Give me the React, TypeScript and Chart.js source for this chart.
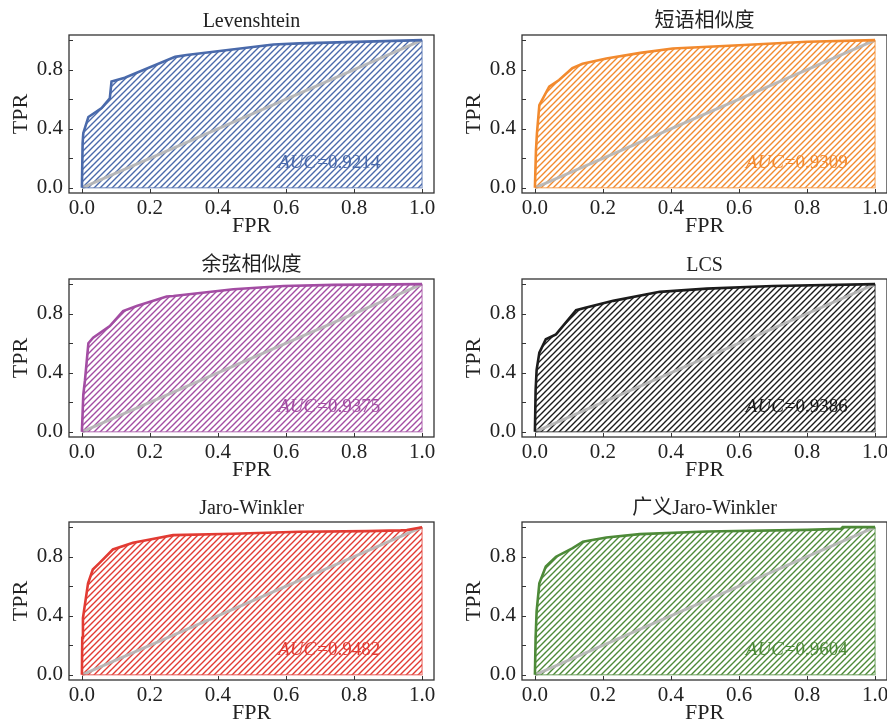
import React, { useEffect, useRef } from "react";
import { Chart, registerables } from "chart.js";

Chart.register(...registerables);

// ---------- data ----------
const TITLES = ["Levenshtein", "短语相似度", "余弦相似度", "LCS", "Jaro-Winkler", "广义Jaro-Winkler"];
const AUC_VALUES = ["0.9214", "0.9309", "0.9375", "0.9386", "0.9482", "0.9604"];

const LEV_FPR = [0, 0.002, 0.004, 0.019, 0.058, 0.082, 0.087, 0.126, 0.274, 0.308, 0.563, 0.64, 1.0];
const LEV_TPR = [0, 0.3, 0.37, 0.48, 0.54, 0.606, 0.72, 0.745, 0.887, 0.899, 0.971, 0.978, 1.0];

const PHRASE_FPR = [0, 0.003, 0.006, 0.013, 0.042, 0.071, 0.11, 0.14, 0.21, 0.31, 0.405, 0.6, 0.8, 1.0];
const PHRASE_TPR = [0, 0.25, 0.37, 0.56, 0.685, 0.73, 0.81, 0.84, 0.876, 0.914, 0.944, 0.966, 0.989, 1.0];

const COS_FPR = [0, 0.004, 0.009, 0.019, 0.033, 0.082, 0.121, 0.161, 0.249, 0.269, 0.445, 0.593, 0.74, 1.0];
const COS_TPR = [0, 0.25, 0.35, 0.6, 0.637, 0.716, 0.818, 0.852, 0.916, 0.92, 0.966, 0.988, 0.995, 1.0];

const LCS_FPR = [0, 0.002, 0.005, 0.013, 0.032, 0.062, 0.121, 0.151, 0.23, 0.367, 0.505, 0.7, 1.0];
const LCS_TPR = [0, 0.28, 0.42, 0.536, 0.627, 0.66, 0.824, 0.842, 0.887, 0.948, 0.97, 0.988, 1.0];

const JW_FPR = [0, 0.001, 0.003, 0.018, 0.032, 0.052, 0.091, 0.15, 0.2, 0.268, 0.445, 0.64, 0.838, 0.937, 0.955, 1.0];
const JW_TPR = [0, 0.25, 0.385, 0.62, 0.713, 0.758, 0.849, 0.894, 0.917, 0.946, 0.955, 0.969, 0.973, 0.978, 0.98, 1.0];

const GJW_FPR = [0, 0.002, 0.005, 0.013, 0.032, 0.062, 0.111, 0.141, 0.21, 0.308, 0.505, 0.8, 0.9, 0.905, 1.0];
const GJW_TPR = [0, 0.25, 0.43, 0.62, 0.733, 0.8, 0.858, 0.902, 0.93, 0.953, 0.971, 0.982, 0.989, 1.0, 1.0];

const FPR_SERIES = [LEV_FPR, PHRASE_FPR, COS_FPR, LCS_FPR, JW_FPR, GJW_FPR];
const TPR_SERIES = [LEV_TPR, PHRASE_TPR, COS_TPR, LCS_TPR, JW_TPR, GJW_TPR];

const DIAG_FPR = [0, 1];
const DIAG_TPR = [0, 1];

const X_TICKS = [0, 0.2, 0.4, 0.6, 0.8, 1.0];
const Y_TICKS = [0, 0.2, 0.4, 0.6, 0.8, 1.0];
const Y_LABELED = [0, 0.4, 0.8];

// ---------- styles / layout ----------
const COLORS = ["#4a6aab", "#f28a2e", "#a34da3", "#1c1c1c", "#e23b33", "#4d8a38"];
const EDGE_COLORS = [
  "rgba(74,106,171,0.55)",
  "rgba(242,138,46,0.55)",
  "rgba(163,77,163,0.55)",
  "rgba(28,28,28,0.55)",
  "rgba(226,59,51,0.55)",
  "rgba(77,138,56,0.55)",
];
const COL_X = [0, 453];
const ROW_Y = [0, 244, 487];
const CW = 443;
const CH = 240;
const AUC_X_COL = [0.577, 0.62];
const AUC_Y = 0.165;
const SERIF = '"Liberation Serif", "Noto Sans CJK SC", serif';
const TEXT = "#222";

function makeHatch(ctx: CanvasRenderingContext2D, color: string) {
  const s = 6;
  const c = document.createElement("canvas");
  c.width = s;
  c.height = s;
  const g = c.getContext("2d")!;
  g.strokeStyle = color;
  g.lineWidth = 1.4;
  g.beginPath();
  g.moveTo(0, s);
  g.lineTo(s, 0);
  g.moveTo(-1, 1);
  g.lineTo(1, -1);
  g.moveTo(s - 1, s + 1);
  g.lineTo(s + 1, s - 1);
  g.stroke();
  return ctx.createPattern(c, "repeat")!;
}

function Panel({ idx }: { idx: number }) {
  const ref = useRef<HTMLCanvasElement>(null);
  const col = idx % 2;
  const row = Math.floor(idx / 2);

  useEffect(() => {
    const canvas = ref.current!;
    const ctx2 = canvas.getContext("2d")!;
    const color = COLORS[idx];
    const fpr = FPR_SERIES[idx];
    const tpr = TPR_SERIES[idx];
    const roc = fpr.map((x, i) => ({ x, y: tpr[i] }));
    const last = roc[roc.length - 1];
    const first = roc[0];
    const edge = [
      { x: last.x, y: last.y },
      { x: last.x, y: first.y },
      { x: first.x, y: first.y },
    ];
    const diag = DIAG_FPR.map((x, i) => ({ x, y: DIAG_TPR[i] }));

    const decor = {
      id: "decor",
      afterDraw(chart: any) {
        const { ctx, chartArea: a, scales } = chart;
        const xs = scales.x;
        const ys = scales.y;
        ctx.save();
        // AUC text
        const ax = xs.getPixelForValue(AUC_X_COL[col]);
        const ay = ys.getPixelForValue(AUC_Y);
        ctx.fillStyle = color;
        ctx.textBaseline = "middle";
        ctx.textAlign = "left";
        ctx.font = `italic 19px ${SERIF}`;
        ctx.fillText("AUC", ax, ay);
        const w1 = ctx.measureText("AUC").width;
        ctx.font = `19px ${SERIF}`;
        ctx.fillText("=" + AUC_VALUES[idx], ax + w1 + 1, ay);
        // frame
        ctx.strokeStyle = "#333";
        ctx.lineWidth = 1.3;
        ctx.strokeRect(a.left, a.top, a.right - a.left, a.bottom - a.top);
        // inward ticks
        ctx.lineWidth = 1;
        ctx.beginPath();
        X_TICKS.forEach((v) => {
          const px = Math.round(xs.getPixelForValue(v)) + 0.5;
          ctx.moveTo(px, a.bottom);
          ctx.lineTo(px, a.bottom - 4);
        });
        Y_TICKS.forEach((v) => {
          const py = Math.round(ys.getPixelForValue(v)) + 0.5;
          ctx.moveTo(a.left, py);
          ctx.lineTo(a.left + 4, py);
        });
        ctx.stroke();
        // title
        const cx = (a.left + a.right) / 2;
        ctx.fillStyle = TEXT;
        ctx.textAlign = "center";
        ctx.textBaseline = "alphabetic";
        ctx.font = `20px ${SERIF}`;
        ctx.fillText(TITLES[idx], cx, 27);
        // axis labels
        ctx.font = `22px ${SERIF}`;
        ctx.fillText("FPR", cx, 232);
        ctx.translate(21, (a.top + a.bottom) / 2);
        ctx.rotate(-Math.PI / 2);
        ctx.textBaseline = "middle";
        ctx.fillText("TPR", 0, 0);
        ctx.restore();
      },
    };

    const chart = new Chart(canvas, {
      type: "scatter",
      data: {
        datasets: [
          {
            data: roc,
            showLine: true,
            borderColor: color,
            borderWidth: 2.6,
            pointRadius: 0,
            fill: "origin",
            backgroundColor: makeHatch(ctx2, color),
            tension: 0,
          } as any,
          {
            data: edge,
            showLine: true,
            borderColor: EDGE_COLORS[idx],
            borderWidth: 1.5,
            pointRadius: 0,
            fill: false,
          },
          {
            data: diag,
            showLine: true,
            borderColor: "rgba(182,182,182,0.93)",
            borderWidth: 3,
            pointRadius: 0,
            fill: false,
          },
        ],
      },
      options: {
        animation: false,
        responsive: false,
        events: [],
        layout: { padding: { top: 35, right: 9, left: 0, bottom: 0 } },
        plugins: {
          legend: { display: false },
          tooltip: { enabled: false },
          filler: { drawTime: "beforeDatasetsDraw" },
        } as any,
        scales: {
          x: {
            type: "linear",
            min: -0.038,
            max: 1.035,
            grid: { display: false, drawTicks: false },
            border: { display: false },
            afterBuildTicks: (s: any) => {
              s.ticks = X_TICKS.map((v) => ({ value: v }));
            },
            afterFit: (s: any) => {
              s.height = 47;
            },
            ticks: {
              autoSkip: false,
              maxRotation: 0,
              padding: 3,
              color: TEXT,
              font: { family: SERIF, size: 21 },
              callback: (v: any) => Number(v).toFixed(1),
            },
          },
          y: {
            type: "linear",
            min: -0.035,
            max: 1.035,
            grid: { display: false, drawTicks: false },
            border: { display: false },
            afterBuildTicks: (s: any) => {
              s.ticks = Y_TICKS.map((v) => ({ value: v }));
            },
            afterFit: (s: any) => {
              s.width = 69;
            },
            ticks: {
              autoSkip: false,
              padding: 6,
              color: TEXT,
              font: { family: SERIF, size: 21 },
              callback: (v: any) => (Y_LABELED.includes(Number(v)) ? Number(v).toFixed(1) : ""),
            },
          },
        },
      },
      plugins: [decor],
    });
    return () => chart.destroy();
  }, [idx]);

  return (
    <canvas
      ref={ref}
      width={CW}
      height={CH}
      style={{ position: "absolute", left: COL_X[col], top: ROW_Y[row], width: CW, height: CH }}
    />
  );
}

export default function App() {
  return (
    <div
      style={{
        position: "absolute",
        left: 0,
        top: 0,
        width: 887,
        height: 727,
        overflow: "hidden",
        background: "#fff",
      }}
    >
      {TITLES.map((_, i) => (
        <Panel key={i} idx={i} />
      ))}
    </div>
  );
}
